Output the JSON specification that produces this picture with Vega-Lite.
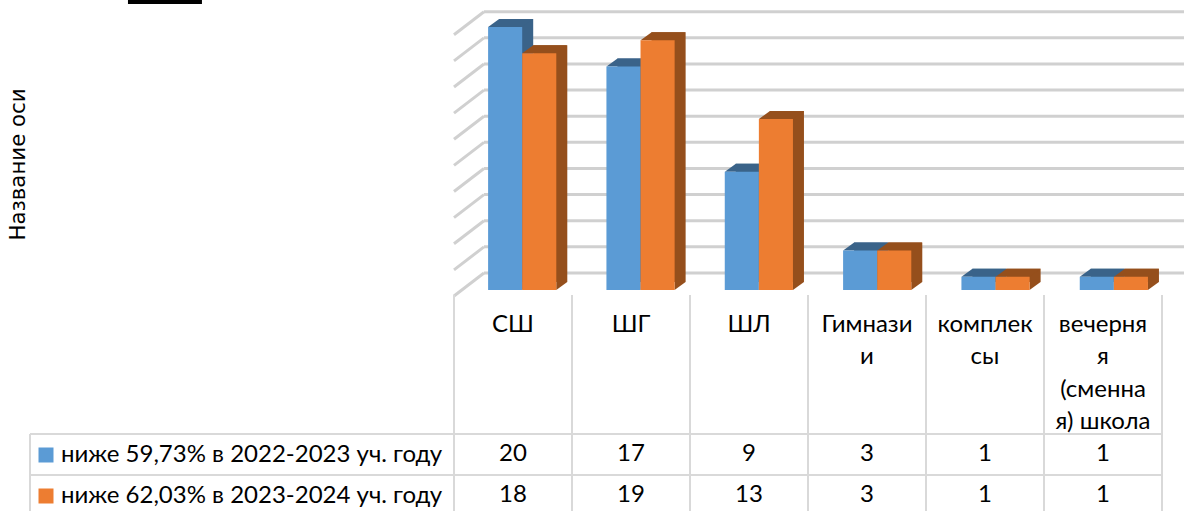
{
"$schema":"https://vega.github.io/schema/vega-lite/v6.json",
"width":1184,"height":511,"padding":0,"autosize":"none",
"background":"white","view":{"stroke":null},
"config":{"axis":{"domain":false,"ticks":false,"labels":false,"grid":false,"title":null},"font":"Lato"},
"datasets":{
"bars":[
{"cat":"СШ","series":"ниже 59,73% в 2022-2023 уч. году","value":20},
{"cat":"ШГ","series":"ниже 59,73% в 2022-2023 уч. году","value":17},
{"cat":"ШЛ","series":"ниже 59,73% в 2022-2023 уч. году","value":9},
{"cat":"Гимнази\nи","series":"ниже 59,73% в 2022-2023 уч. году","value":3},
{"cat":"комплек\nсы","series":"ниже 59,73% в 2022-2023 уч. году","value":1},
{"cat":"вечерня\nя\n(сменна\nя) школа","series":"ниже 59,73% в 2022-2023 уч. году","value":1},
{"cat":"СШ","series":"ниже  62,03% в 2023-2024 уч. году","value":18},
{"cat":"ШГ","series":"ниже  62,03% в 2023-2024 уч. году","value":19},
{"cat":"ШЛ","series":"ниже  62,03% в 2023-2024 уч. году","value":13},
{"cat":"Гимнази\nи","series":"ниже  62,03% в 2023-2024 уч. году","value":3},
{"cat":"комплек\nсы","series":"ниже  62,03% в 2023-2024 уч. году","value":1},
{"cat":"вечерня\nя\n(сменна\nя) школа","series":"ниже  62,03% в 2023-2024 уч. году","value":1}
],
"levels":[{"v":0},{"v":2},{"v":4},{"v":6},{"v":8},{"v":10},{"v":12},{"v":14},{"v":16},{"v":18},{"v":20}],
"columns":[{"c":0},{"c":1},{"c":2},{"c":3},{"c":4},{"c":5},{"c":6}],
"rows":[{"r":0},{"r":1},{"r":2}]
},
"resolve":{"scale":{"x":"independent","y":"independent","color":"independent"}},
"layer":[
{"data":{"name":"levels"},"mark":{"type":"rule","stroke":"#d0d0d0","strokeWidth":3},
 "encoding":{
  "x":{"datum":0.254,"type":"quantitative","scale":{"domain":[0,6.186],"range":[454,1184]},"axis":null},
  "x2":{"datum":6.186},
  "y":{"field":"v","type":"quantitative","scale":{"domain":[0,20],"range":[273,11.7]},"axis":null}
 }},
{"data":{"name":"levels"},"mark":{"type":"rule","stroke":"#d0d0d0","strokeWidth":3,"yOffset":23,"y2Offset":0},
 "encoding":{
  "x":{"datum":0,"type":"quantitative","scale":{"domain":[0,6.186],"range":[454,1184]},"axis":null},
  "x2":{"datum":0.254},
  "y":{"field":"v","type":"quantitative","scale":{"domain":[0,20],"range":[273,11.7]},"axis":{"title":"Название оси","titleFont":"DejaVu Sans","titleFontSize":21.3,"titleFontWeight":"normal","titleColor":"#000000","titleX":18,"titleY":164,"titleAngle":270,"titleAlign":"center","titleBaseline":"middle","labels":false,"ticks":false,"domain":false,"grid":false}},
  "y2":{"field":"v"}
 }},
{"data":{"values":[{"a":-2.763,"b":-2.136}]},"mark":{"type":"rule","stroke":"#000000","strokeWidth":8},
 "encoding":{
  "x":{"field":"a","type":"quantitative","scale":{"domain":[0,6],"range":[454,1162]},"axis":null},
  "x2":{"field":"b"},
  "y":{"datum":-10.585,"type":"quantitative","scale":{"domain":[-3.39,2],"range":[295,516]},"axis":null}
 }},
{"data":{"name":"columns"},"mark":{"type":"rule","stroke":"#d9d9d9","strokeWidth":2},
 "encoding":{
  "x":{"field":"c","type":"quantitative","scale":{"domain":[0,6],"range":[454,1162]},"axis":null},
  "y":{"datum":-3.39,"type":"quantitative","scale":{"domain":[-3.39,2],"range":[295,516]},"axis":null},
  "y2":{"datum":2}
 }},
{"data":{"name":"rows"},"mark":{"type":"rule","stroke":"#d9d9d9","strokeWidth":2},
 "encoding":{
  "x":{"datum":-3.593,"type":"quantitative","scale":{"domain":[0,6],"range":[454,1162]},"axis":null},
  "x2":{"datum":6},
  "y":{"field":"r","type":"quantitative","scale":{"domain":[-3.39,2],"range":[295,516]},"axis":null}
 }},
{"mark":{"type":"rule","stroke":"#d9d9d9","strokeWidth":2},
 "data":{"values":[{"r":0}]},
 "encoding":{
  "x":{"datum":-3.593,"type":"quantitative","scale":{"domain":[0,6],"range":[454,1162]},"axis":null},
  "y":{"datum":0,"type":"quantitative","scale":{"domain":[-3.39,2],"range":[295,516]},"axis":null},
  "y2":{"datum":2}
 }},
{"data":{"name":"bars"},"mark":{"type":"bar"},
 "encoding":{
  "x":{"field":"cat","type":"nominal","sort":null,"axis":null,"scale":{"range":[465,1175],"paddingInner":0.4237,"paddingOuter":0.2119,"align":0.68}},
  "xOffset":{"field":"series","type":"nominal","sort":null,"scale":{"paddingInner":0,"paddingOuter":0}},
  "y":{"field":"value","type":"quantitative","axis":null,"scale":{"domain":[0,20],"range":[282,19]}},
  "fill":{"field":"series","type":"nominal","sort":null,"legend":null,"scale":{"range":["#3a6389","#954f1c"]}}
 }},
{"data":{"name":"bars"},
 "encoding":{
  "x":{"field":"cat","type":"nominal","sort":null,"axis":null,"scale":{"range":[454,1164],"paddingInner":0.4237,"paddingOuter":0.2119,"align":0.68}},
  "xOffset":{"field":"series","type":"nominal","sort":null,"scale":{"paddingInner":0,"paddingOuter":0}},
  "y":{"field":"value","type":"quantitative","axis":null,"scale":{"domain":[0,20],"range":[290,27]}}
 },
 "layer":[
  {"mark":{"type":"point","filled":true,"size":4,"opacity":1,"strokeWidth":0,"shape":"M-17,0 L17,0 L28,-8 L-6,-8 Z"},
   "encoding":{"fill":{"field":"series","type":"nominal","sort":null,"legend":null,"scale":{"range":["#41719c","#b05c22"]}}}},
  {"mark":{"type":"point","filled":true,"size":4,"opacity":1,"strokeWidth":0,"shape":"M17,-8 L28,-8 L17,0 Z"},
   "encoding":{"y":{"datum":0,"type":"quantitative","axis":null,"scale":{"domain":[0,20],"range":[290,27]}},"fill":{"field":"series","type":"nominal","sort":null,"legend":null,"scale":{"range":["#3a6389","#954f1c"]}}}},
  {"mark":{"type":"bar"},
   "encoding":{"color":{"field":"series","type":"nominal","sort":null,"scale":{"range":["#5b9bd5","#ed7d31"]},
     "legend":{"orient":"none","legendX":34,"legendY":443,"title":null,"symbolType":"square","symbolSize":225,"symbolStrokeWidth":0,"symbolOpacity":1,"labelFont":"Lato","labelFontSize":24,"labelColor":"#000000","labelLimit":500,"labelOffset":3,"rowPadding":17,"padding":0}}}}
 ]},
{"data":{"name":"bars"},"transform":[{"filter":"datum.series[5]=='5'"}],
 "mark":{"type":"text","fontSize":24,"color":"#000000","lineBreak":"\n","lineHeight":32.4,"baseline":"top","align":"center"},
 "encoding":{
  "x":{"field":"cat","type":"nominal","sort":null,"axis":null,"scale":{"range":[454,1162],"paddingInner":0,"paddingOuter":0}},
  "y":{"datum":-2.95,"type":"quantitative","axis":null,"scale":{"domain":[-3.39,2],"range":[295,516]}},
  "text":{"field":"cat"}
 }},
{"data":{"name":"bars"},
 "mark":{"type":"text","fontSize":24,"color":"#000000","align":"center","baseline":"middle"},
 "encoding":{
  "x":{"field":"cat","type":"nominal","sort":null,"axis":null,"scale":{"range":[454,1162],"paddingInner":0,"paddingOuter":0}},
  "y":{"field":"series","type":"nominal","sort":null,"axis":null,"scale":{"type":"point","padding":0,"range":[454,495]}},
  "text":{"field":"value"}
 }}
]
}
